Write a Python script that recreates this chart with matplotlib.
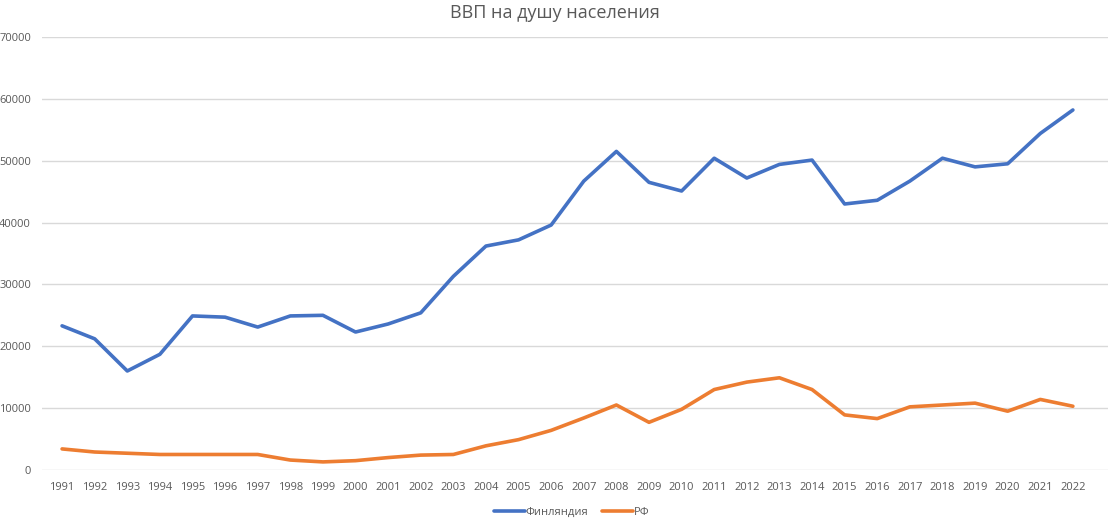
import numpy as np
import matplotlib
matplotlib.use('Agg')
from matplotlib import pyplot as plt

years = [str(y) for y in range(1991, 2023)]
finland = [23300, 21200, 16000, 18700, 24900, 24700, 23100, 24900, 25000, 22300,
           23600, 25400, 31300, 36200, 37200, 39600, 46700, 51500, 46500, 45100,
           50400, 47200, 49400, 50100, 43000, 43600, 46700, 50400, 49000, 49500,
           54400, 58200]
russia = [3400, 2900, 2700, 2500, 2500, 2500, 2500, 1600, 1300, 1500,
          2000, 2400, 2500, 3900, 4900, 6400, 8400, 10500, 7700, 9800,
          13000, 14200, 14900, 13000, 8900, 8300, 10200, 10500, 10800, 9500,
          11400, 10300]
yticks = [0, 10000, 20000, 30000, 40000, 50000, 60000, 70000]

plt.rcParams['font.family'] = ['Open Sans', 'DejaVu Sans']
txt = '#595959'

fig = plt.figure(figsize=(11.1, 5.21), dpi=100)
ax = fig.add_axes([0.038, 0.098, 0.96, 0.831])
x = np.arange(len(years))
ax.plot(x, finland, color='#4472C4', lw=2.6, label='Финляндия', solid_capstyle='round')
ax.plot(x, russia, color='#ED7D31', lw=2.6, label='РФ', solid_capstyle='round')

ax.set_xlim(-0.61, 32.07)
ax.set_ylim(0, 70000)
ax.set_yticks(yticks)
ax.set_yticklabels([str(v) for v in yticks])
ax.set_xticks(x)
ax.set_xticklabels(years)
ax.tick_params(axis='both', length=0, colors=txt, labelsize=8)
ax.tick_params(axis='x', pad=9)
ax.tick_params(axis='y', pad=8)
ax.grid(axis='y', color='#D9D9D9', lw=1)
ax.set_axisbelow(True)
for s in ax.spines.values():
    s.set_visible(False)

fig.suptitle('ВВП на душу населения', y=0.993, fontsize=13, color=txt)
fig.legend(loc='lower center', bbox_to_anchor=(0.515, -0.014), ncol=2, frameon=False,
           fontsize=8, labelcolor=txt, handlelength=2.8, columnspacing=1.2, handletextpad=0.1)

fig.savefig('out.png', dpi=100)
